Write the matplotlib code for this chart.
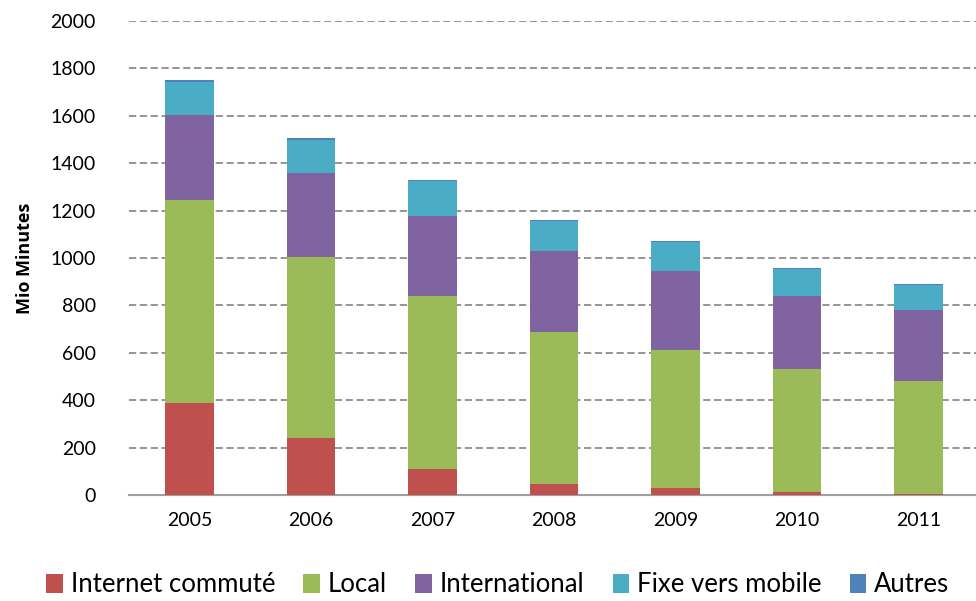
import matplotlib.pyplot as plt
import numpy as np

years = ["2005", "2006", "2007", "2008", "2009", "2010", "2011"]
internet = [388, 240, 108, 45, 30, 14, 3]
local = [857, 764, 730, 643, 582, 516, 478]
international = [358, 353, 340, 340, 334, 311, 298]
fixe_mobile = [140, 143, 145, 127, 122, 112, 107]
autres = [8, 6, 5, 4, 4, 3, 3]

series = [
    ("Internet commuté", internet, "#c0504d"),
    ("Local", local, "#9bbb59"),
    ("International", international, "#8064a2"),
    ("Fixe vers mobile", fixe_mobile, "#4bacc6"),
    ("Autres", autres, "#4f81bd"),
]

plt.rcParams["font.family"] = ["Lato", "DejaVu Sans"]

fig = plt.figure(figsize=(9.76, 6.01), dpi=100)
ax = fig.add_axes([129 / 976, 106 / 601, 850 / 976, 474 / 601])

x = np.arange(len(years))
bottom = np.zeros(len(years))
for label, values, color in series:
    ax.bar(x, values, width=0.4, bottom=bottom, color=color, label=label,
           linewidth=0, zorder=3)
    bottom += np.array(values)

ax.set_xlim(-0.5, len(years) - 0.5)
ax.set_ylim(0, 2000)
ax.set_yticks(range(0, 2001, 200))
ax.set_xticks(x)
ax.set_xticklabels(years)
ax.tick_params(axis="both", length=0, labelsize=14, colors="black")
ax.tick_params(axis="x", pad=12)
ax.tick_params(axis="y", pad=24)

ax.grid(axis="y", linestyle=(0, (4, 2)), color="#8c8c8c", linewidth=1.3, zorder=0)
for side in ["left", "right", "top"]:
    ax.spines[side].set_visible(False)
ax.spines["bottom"].set_color("#a0a0a0")
ax.spines["bottom"].set_linewidth(1.5)

ax.set_ylabel("Mio Minutes", fontsize=13, fontweight="bold", labelpad=12,
              family=["Open Sans", "DejaVu Sans"])

handles, labels = ax.get_legend_handles_labels()
fig.legend(handles, labels, loc="center", bbox_to_anchor=(0.51, 16 / 601),
           ncol=5, frameon=False, fontsize=18.5, handlelength=0.65, handleheight=0.75,
           handletextpad=0.3, columnspacing=1.1)

fig.savefig("out.png", dpi=100)
